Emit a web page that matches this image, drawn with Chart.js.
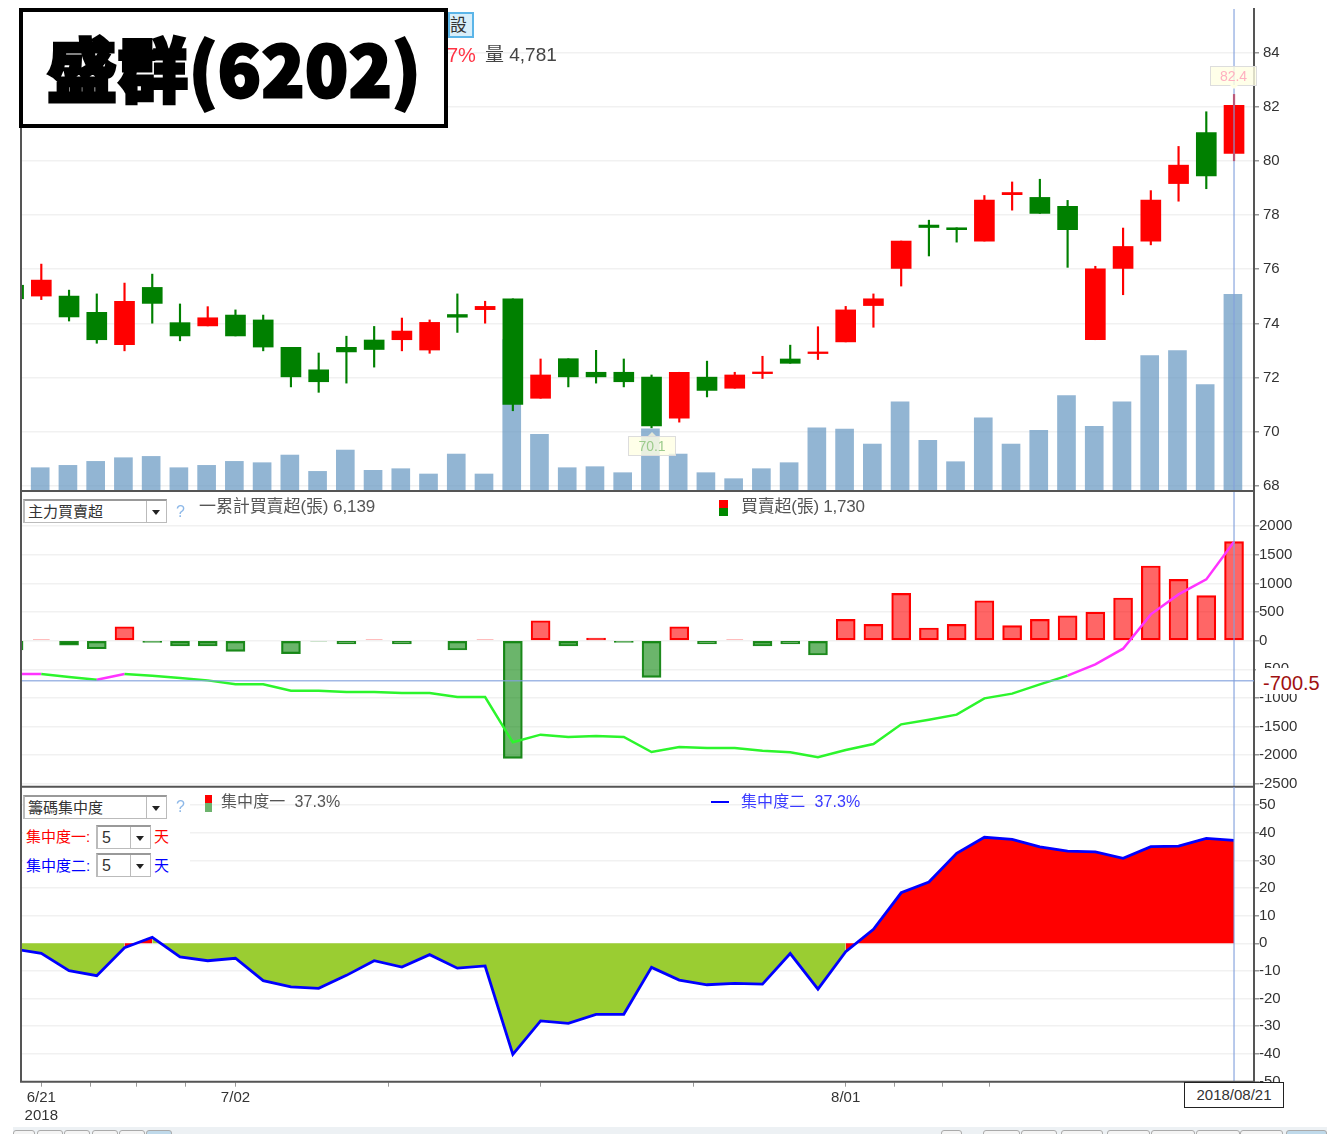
<!DOCTYPE html>
<html>
<head>
<meta charset="utf-8">
<title>盛群(6202)</title>
<script src="https://cdn.jsdelivr.net/npm/chart.js@4"></script>
<style>
  html, body { margin: 0; padding: 0; background: #fff; }
  body { width: 1327px; height: 1134px; position: relative; overflow: hidden;
         font-family: "Liberation Sans", "Noto Sans CJK TC", sans-serif; color: #555; }
  canvas { position: absolute; left: 0; }
  .t { position: absolute; white-space: nowrap; line-height: 1; }
  .box { position: absolute; background: #fff; }
  .sel { position: absolute; box-sizing: border-box; background: #fff; border: 1px solid #bbb;
         border-top: 2px solid #999; border-left: 2px solid #bbb; color: #333; font-size: 15px; line-height: 21px; padding-left: 3px; }
  .sel i { position: absolute; right: 0; top: 0; bottom: 0; width: 19px; border-left: 1px solid #bbb; }
  .sel i::after { content: ""; position: absolute; left: 5px; top: 9px; border: 4px solid transparent; border-top: 5px solid #222; }
  .tip { position: absolute; box-sizing: border-box; background: rgba(255,255,228,.8); border: 1px solid #ddd;
         font-size: 14px; text-align: center; line-height: 18px; }
  .tip b { position: absolute; left: 50%; margin-left: -4px; width: 0; height: 0; border: 4px solid transparent; }
  .tab { position: absolute; top: 1130px; height: 6px; box-sizing: border-box; background: #f4f4f4; border: 1px solid #aaa; border-radius: 3px 3px 0 0; }
</style>
</head>
<body>
<canvas id="priceChart" width="1327" height="510" style="top:-6px"></canvas>
<canvas id="flowChart" width="1327" height="319" style="top:480px"></canvas>
<canvas id="concChart" width="1327" height="359" style="top:775px"></canvas>

<!-- 上方資訊列 -->
<div class="t" style="left:448px;top:12px;width:22px;height:22px;border:2px solid #5BB5E8;background:#D8EEFA;color:#333;font-size:17px;line-height:23px">設</div>
<div class="t" style="left:447px;top:45px;font-size:20px;color:#FF3344">7%</div>
<div class="t" style="left:485px;top:45px;font-size:19px;color:#444">量 4,781</div>
<div class="box" style="left:19px;top:8px;width:421px;height:112px;border:4px solid #000"></div>
<div class="t" id="stockTitle" style="left:47px;top:32px;font-size:70px;font-weight:900;color:#000;letter-spacing:1px;-webkit-text-stroke:3px #000;font-family:'Noto Sans CJK TC',sans-serif">盛群(6202)</div>
<div class="tip" style="left:1210px;top:66px;width:47px;height:20px;color:#FFB0C0">82.4<b style="top:18px;border-top-color:#FFFFE4"></b></div>
<div class="tip" style="left:628px;top:436px;width:48px;height:20px;color:#9CCB8C">70.1<b style="top:-9px;border-bottom-color:#E4E8D8"></b></div>

<!-- 主力買賣超 -->
<div class="box" style="left:23px;top:494px;width:167px;height:31px"></div>
<div class="sel" style="left:23px;top:499px;width:144px;height:24px">主力買賣超<i></i></div>
<div class="t" style="left:176px;top:504px;font-size:16px;color:#8DB8E8">?</div>
<div class="t" style="left:199px;top:498px;font-size:17px;letter-spacing:-.1px">一累計買賣超(張) 6,139</div>
<div class="box" style="left:719px;top:500px;width:9px;height:8px;background:#f00"></div>
<div class="box" style="left:719px;top:508px;width:9px;height:8px;background:#080"></div>
<div class="t" style="left:741px;top:498px;font-size:17px;letter-spacing:-.25px">買賣超(張) 1,730</div>
<div class="t" style="left:1256px;top:668px;width:71px;height:26px;background:#fff;font-size:20px;line-height:30px;color:#A01010;padding-left:7px;box-sizing:border-box;overflow:hidden">-700.5</div>

<!-- 籌碼集中度 -->
<div class="box" style="left:23px;top:789px;width:167px;height:90px"></div>
<div class="sel" style="left:23px;top:795px;width:144px;height:24px">籌碼集中度<i></i></div>
<div class="t" style="left:176px;top:799px;font-size:16px;color:#8DB8E8">?</div>
<div class="box" style="left:205px;top:795px;width:7px;height:8px;background:#f00"></div>
<div class="box" style="left:205px;top:803px;width:7px;height:9px;background:#6DB36D"></div>
<div class="t" style="left:221px;top:794px;font-size:16px;letter-spacing:.1px">集中度一&nbsp; 37.3%</div>
<div class="box" style="left:711px;top:801px;width:18px;height:2px;background:#00f"></div>
<div class="t" style="left:741px;top:794px;font-size:16px;letter-spacing:.1px;color:#3A3AFF">集中度二&nbsp; 37.3%</div>
<div class="t" style="left:26px;top:829px;font-size:15px;color:#f00">集中度一:</div>
<div class="sel" style="left:96px;top:825px;width:55px;height:24px;font-size:16px;padding-left:4px">5<i></i></div>
<div class="t" style="left:154px;top:829px;font-size:15px;color:#f00">天</div>
<div class="t" style="left:26px;top:858px;font-size:15px;color:#00f">集中度二:</div>
<div class="sel" style="left:96px;top:853px;width:55px;height:24px;font-size:16px;padding-left:4px">5<i></i></div>
<div class="t" style="left:154px;top:858px;font-size:15px;color:#00f">天</div>

<div class="t" style="left:1184px;top:1082px;width:100px;height:26px;box-sizing:border-box;background:#fff;border:1.5px solid #222;font-size:15px;line-height:23px;text-align:center;color:#333">2018/08/21</div>

<!-- 底部分頁列 -->
<div class="box" style="left:13px;top:1127px;width:1314px;height:7px;background:#EDF1F4"></div>
<div id="tabs"></div>

<script>
/* 資料 */
// 盛群 6202 日K,從圖上讀的
const candleOpen = [75.41, 75.01, 75.01, 74.41, 73.22, 75.33, 74.03, 73.91, 74.31, 74.13, 73.12, 72.29, 73.12, 73.39, 73.4, 73.02, 74.33, 74.51, 74.91, 71.24, 72.7, 72.2, 72.2, 72.02, 70.51, 72.02, 71.61, 72.15, 72.69, 72.89, 73.32, 74.66, 76.03, 77.63, 77.53, 77.04, 78.75, 78.65, 78.32, 73.4, 76.03, 77.04, 79.16, 81.04, 80.27];
const candleClose = [74.91, 75.6, 74.24, 73.4, 74.82, 74.74, 73.54, 74.21, 73.54, 73.13, 72.03, 71.85, 72.95, 73.04, 73.72, 74.04, 74.23, 74.63, 71.01, 72.1, 72.03, 72.03, 71.85, 70.22, 72.2, 71.53, 72.1, 72.21, 72.53, 72.95, 74.5, 74.91, 77.04, 77.54, 77.46, 78.55, 78.83, 78.06, 77.46, 76.02, 76.84, 78.55, 79.84, 79.44, 82.05];
const candleHigh = [75.41, 76.19, 75.23, 75.09, 75.49, 75.82, 74.72, 74.62, 74.5, 74.31, 73.12, 72.91, 73.53, 73.89, 74.2, 74.13, 75.09, 74.82, 74.91, 72.69, 72.7, 73.01, 72.69, 72.1, 72.2, 72.61, 72.2, 72.79, 73.2, 73.88, 74.63, 75.09, 77.04, 77.81, 77.53, 78.72, 79.22, 79.32, 78.54, 76.11, 77.52, 78.9, 80.53, 81.81, 82.45];
const candleLow = [74.91, 74.88, 74.09, 73.27, 72.99, 74.01, 73.36, 73.91, 73.54, 72.99, 71.66, 71.46, 71.8, 72.39, 72.99, 72.9, 73.67, 74.01, 70.78, 71.24, 71.66, 71.8, 71.66, 70.15, 70.36, 71.29, 71.61, 71.97, 72.53, 72.67, 73.32, 73.86, 75.38, 76.49, 77.0, 77.04, 78.18, 78.06, 76.07, 73.4, 75.06, 76.9, 78.51, 78.97, 80.0];
const volume = [1092, 566, 623, 720, 809, 841, 566, 623, 720, 688, 874, 477, 995, 502, 542, 413, 898, 413, 3680, 1375, 566, 591, 445, 1513, 898, 445, 299, 542, 688, 1537, 1505, 1141, 2168, 1230, 712, 1780, 1141, 1472, 2322, 1569, 2168, 3293, 3414, 2589, 4781];

const netBuySell = [-163, 25, -76, -140, 244, -29, -93, -93, -186, 0, -227, -25, -58, 25, -58, 0, -163, 25, -2054, 349, -93, 47, -29, -640, 244, -58, 25, -93, -58, -250, 372, 285, 826, 221, 285, 698, 262, 372, 436, 500, 745, 1304, 1071, 786, 1730];
const cumulative = [-582, -582, -634, -681, -582, -611, -652, -693, -762, -762, -873, -873, -896, -896, -914, -914, -984, -984, -1775, -1641, -1682, -1665, -1682, -1944, -1857, -1874, -1874, -1921, -1950, -2037, -1909, -1804, -1461, -1380, -1292, -1007, -925, -762, -611, -413, -140, 460, 809, 1071, 1729];
const magentaSegments = [0, 3, 38, 39, 40, 41, 42, 43];

const concentration = [-2.05, -3.62, -9.9, -11.7, -1.6, 2.2, -4.9, -6.3, -5.4, -13.5, -15.8, -16.3, -11.6, -6.3, -8.6, -4.1, -9.0, -8.2, -40.2, -28.1, -29, -25.7, -25.7, -8.7, -13.3, -15, -14.5, -14.8, -3.7, -16.6, -3, 5.1, 18.3, 22.2, 32.6, 38.4, 37.6, 34.9, 33.4, 33.1, 30.8, 35, 35.2, 38, 37.3];

const priceTicks = [68, 70, 72, 74, 76, 78, 80, 82, 84];
const flowTicks = [2000, 1500, 1000, 500, 0, -500, -1000, -1500, -2000, -2500];
const concTicks = [50, 40, 30, 20, 10, 0, -10, -20, -30, -40, -50];
const xTickPositions = [1, 2.76, 4.45, 6.2, 8, 13.5, 19, 24.5, 30, 31.75, 33.5, 35.2];
const xTickLabels = [["6/21", "2018"], "", "", "", "7/02", "", "", "", "8/01", "", "", ""];
const flowCursor = -700.5;

const xMin = 0.268;
const xMax = 44.72;
const lastIndex = volume.length - 1;
const fontFamily = '"Liberation Sans", "Noto Sans CJK TC", sans-serif';

// 把陣列變成 {x, y} 點
function toPoints(values, shift) {
  return values.map((v, i) => ({ x: i + (shift || 0), y: v }));
}

// 左邊跟下面的框線
const paneFrame = {
  id: "paneFrame",
  afterDraw(chart) {
    const ctx = chart.ctx, a = chart.chartArea;
    ctx.save();
    ctx.strokeStyle = "#555";
    ctx.lineWidth = 2;
    ctx.beginPath();
    ctx.moveTo(a.left, a.top);
    ctx.lineTo(a.left, a.bottom);
    ctx.lineTo(a.right, a.bottom);
    ctx.stroke();
    ctx.restore();
  }
};

function yAxis(ticksList, min, max, pad) {
  return {
    position: "right",
    min: min,
    max: max,
    border: { color: "#555", width: 2 },
    grid: { color: "#F1F1F1", lineWidth: 1.5, tickLength: 5, tickColor: "#999" },
    ticks: { color: "#333", padding: pad, autoSkip: false, font: { family: fontFamily, size: 15 }, callback: v => String(v) },
    afterBuildTicks: s => { s.ticks = ticksList.map(v => ({ value: v })); },
    afterFit: s => { s.width = 73; }
  };
}

function hiddenX() {
  return { type: "linear", display: false, offset: false, min: xMin, max: xMax };
}

// 游標線
function cursorLine(yMin, yMax) {
  return {
    type: "line",
    data: [{ x: lastIndex, y: yMin }, { x: lastIndex, y: yMax }],
    borderColor: "rgba(130,160,220,.75)",
    borderWidth: 1.5,
    pointRadius: 0,
    order: 0
  };
}

function baseOptions(scales, top, bottom) {
  return {
    responsive: false,
    animation: false,
    devicePixelRatio: 1,
    layout: { padding: { left: 21, right: 0, top: top, bottom: bottom } },
    plugins: { legend: { display: false }, tooltip: { enabled: false } },
    scales: scales
  };
}

// K線 + 成交量
const candleColors = candleOpen.map((o, i) => (candleClose[i] >= o ? "#FF0000" : "#008000"));

new Chart(document.getElementById("priceChart"), {
  type: "bar",
  plugins: [paneFrame],
  data: {
    datasets: [
      cursorLine(67.82, 85.6),
      {
        label: "K",
        data: candleOpen.map((o, i) => ({ x: i, y: [o, candleClose[i]] })),
        backgroundColor: candleColors,
        barThickness: 20,
        grouped: false,
        order: 1
      },
      {
        label: "wick",
        data: candleLow.map((l, i) => ({ x: i, y: [l, candleHigh[i]] })),
        backgroundColor: candleColors,
        barThickness: 1.5,
        grouped: false,
        order: 2
      },
      {
        label: "量",
        yAxisID: "vol",
        data: toPoints(volume, -0.04),
        backgroundColor: "rgba(100,149,193,.7)",
        barThickness: 18,
        grouped: false,
        order: 3
      }
    ]
  },
  options: baseOptions({
    x: hiddenX(),
    y: yAxis(priceTicks, 67.82, 85.6, 4),
    vol: { display: false, min: 0, max: 11715 }
  }, 15, 12.3)
});

// 主力買賣超
function flowFill(v) {
  if (Math.abs(v) <= 25) return v > 0 ? "rgba(255,0,0,.35)" : "rgba(0,128,0,.35)";
  return v > 0 ? "rgba(255,0,0,.6)" : "rgba(0,128,0,.58)";
}
function flowBorder(v) {
  if (Math.abs(v) <= 25) return "rgba(0,0,0,0)";
  return v > 0 ? "#FF0000" : "#1E8A1E";
}

new Chart(document.getElementById("flowChart"), {
  type: "bar",
  plugins: [paneFrame],
  data: {
    datasets: [
      cursorLine(-2550, 2597),
      {
        type: "line",
        label: "游標",
        data: [{ x: xMin, y: flowCursor }, { x: xMax, y: flowCursor }],
        borderColor: "rgba(130,160,220,.75)",
        borderWidth: 1.5,
        pointRadius: 0,
        order: 0
      },
      {
        type: "line",
        label: "累計買賣超(張)",
        data: toPoints(cumulative),
        borderWidth: 2.5,
        pointRadius: 0,
        tension: 0,
        borderColor: "#2CF52C",
        segment: { borderColor: c => (magentaSegments.includes(c.p0DataIndex) ? "#FF33FF" : "#2CF52C") },
        order: 1
      },
      {
        label: "買賣超(張)",
        data: toPoints(netBuySell),
        backgroundColor: netBuySell.map(flowFill),
        borderColor: netBuySell.map(flowBorder),
        borderWidth: 1.5,
        borderSkipped: false,
        barThickness: 19,
        grouped: false,
        order: 2
      }
    ]
  },
  options: baseOptions({
    x: hiddenX(),
    y: yAxis(flowTicks, -2550, 2597, 0)
  }, 12, 12.3)
});

// 籌碼集中度
new Chart(document.getElementById("concChart"), {
  type: "line",
  plugins: [paneFrame],
  data: {
    datasets: [
      cursorLine(-50.1, 56.6),
      {
        label: "集中度二",
        data: toPoints(concentration),
        borderColor: "#0000FF",
        borderWidth: 2.8,
        pointRadius: 0,
        tension: 0,
        order: 1
      },
      {
        label: "集中度一",
        data: toPoints(concentration),
        borderWidth: 0,
        pointRadius: 0,
        tension: 0,
        fill: "origin",
        backgroundColor: "#FF0000",
        segment: { backgroundColor: c => (c.p1.parsed.y > 0 ? "#FF0000" : "#9ACD32") },
        order: 2
      }
    ]
  },
  options: baseOptions({
    x: {
      type: "linear",
      position: "bottom",
      min: xMin,
      max: xMax,
      border: { display: false },
      grid: { drawOnChartArea: false, tickLength: 5, tickColor: "#999" },
      ticks: {
        color: "#333",
        padding: 2,
        autoSkip: false,
        maxRotation: 0,
        font: { family: fontFamily, size: 15, lineHeight: 1.2 },
        callback: (v, i) => xTickLabels[i]
      },
      afterBuildTicks: s => { s.ticks = xTickPositions.map(v => ({ value: v })); },
      afterFit: s => { s.height = 52.3; }
    },
    y: yAxis(concTicks, -50.1, 56.6, 0)
  }, 12, 0)
});

// 分頁按鈕
const tabEdges = [[13, 35], [37, 63], [64, 90], [92, 118], [119, 145], [146, 172], [941, 962], [983, 1020], [1021, 1057], [1061, 1103], [1107, 1150], [1151, 1195], [1196, 1240], [1240, 1283], [1286, 1327]];
const tabs = document.getElementById("tabs");
tabEdges.forEach(e => {
  const d = document.createElement("div");
  d.className = "tab";
  d.style.left = e[0] + "px";
  d.style.width = (e[1] - e[0]) + "px";
  if (e[0] === 146 || e[0] === 1286) d.style.background = "#BFD9EA";
  tabs.appendChild(d);
});
</script>
</body>
</html>
